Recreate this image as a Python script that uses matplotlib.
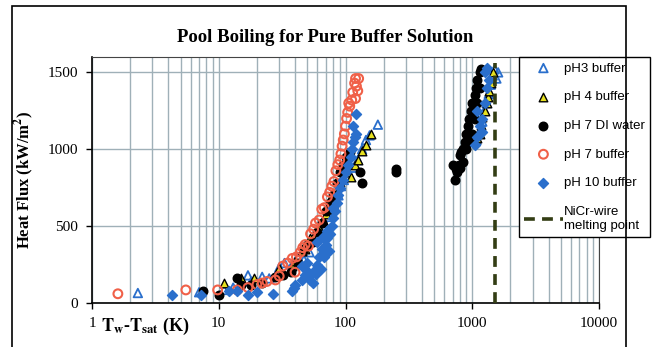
import matplotlib
matplotlib.use("Agg")
import matplotlib.pyplot as plt
from matplotlib.patches import Rectangle
from matplotlib.ticker import LogLocator, FixedLocator, FixedFormatter, NullFormatter

# 数据
ph3_x = [2.3, 7.0, 11, 13, 17, 18, 22, 25, 30, 33, 38, 42, 47, 52, 56, 60, 64, 68, 72,
         76, 80, 84, 88, 92, 97, 105, 115, 125, 135, 145, 155, 180,
         1080, 1150, 1200, 1250, 1300, 1350, 1400, 1450, 1500, 1600, 1550]
ph3_y = [65, 70, 85, 100, 180, 140, 170, 160, 230, 260, 250, 300, 280, 330, 400, 430, 470, 520, 560,
         600, 650, 680, 700, 760, 800, 850, 880, 930, 1000, 1060, 1090, 1160,
         1060, 1120, 1180, 1250, 1300, 1360, 1420, 1480, 1520, 1500, 1460]

ph4_x = [11, 15, 19, 30, 38, 40, 45, 48, 52, 55, 62, 66, 70, 74, 78, 85, 90, 96, 105, 110,
         118, 125, 135, 145, 160,
         1100, 1150, 1180, 1200, 1250, 1300, 1320, 1350, 1400, 1450]
ph4_y = [130, 165, 160, 230, 240, 270, 340, 350, 420, 430, 490, 540, 580, 610, 700, 720, 790, 820, 850, 820,
         900, 930, 990, 1030, 1100,
         1070, 1100, 1160, 1210, 1250, 1300, 1340, 1380, 1430, 1500]

di_x = [7.5, 10, 14, 15, 18, 22, 28, 32, 37, 42, 47, 50, 55, 60, 65, 70, 75, 80, 85, 90,
        95, 100, 108, 130, 135, 250, 250,
        700, 730, 750, 760, 780, 800, 800, 820, 850, 850, 870, 900, 900, 920, 950, 950,
        980, 1000, 1000, 1050, 1050, 1080, 1100, 1100, 1150, 1150, 1170]
di_y = [80, 55, 160, 120, 120, 130, 170, 180, 200, 260, 350, 380, 400, 460, 520, 600, 650, 700, 780, 850,
        900, 950, 980, 850, 780, 870, 850,
        900, 800, 870, 850, 900, 960, 880, 980, 1000, 920, 1050, 1100, 1000, 1150, 1200, 1050,
        1250, 1300, 1100, 1350, 1200, 1400, 1450, 1300, 1500, 1400, 1520]

ph7_x = [1.6, 5.5, 9.8, 14, 17, 20, 22, 24, 28, 30, 32, 35, 38, 40, 41, 44, 46, 48, 51, 53,
         56, 58, 62, 65, 68, 72, 75, 78, 81, 84, 87, 90, 92, 94, 96, 98, 100, 102, 104,
         106, 108, 112, 114, 118, 120, 122, 125, 127, 120]
ph7_y = [60, 85, 85, 85, 100, 120, 130, 140, 150, 175, 240, 260, 290, 200, 300, 330, 360, 380, 370, 450,
         480, 520, 540, 610, 620, 690, 720, 760, 790, 860, 900, 930, 970, 1020, 1060, 1100, 1150, 1200, 1240,
         1300, 1280, 1320, 1370, 1430, 1460, 1410, 1380, 1460, 1330]

ph10_x = [4.3, 7.3, 12, 14, 17, 20, 27, 38, 39, 40, 45, 48, 50, 52, 55, 55, 58, 60, 62, 64,
          65, 68, 70, 72, 74, 75, 78, 80, 82, 85, 88, 90, 95, 100, 105, 110, 112, 115, 118,
          120, 115, 120, 45, 50, 60, 66, 72, 80,
          1050, 1100, 1150, 1200, 1200, 1250, 1300, 1350, 1300, 1250, 1100]
ph10_y = [55, 50, 80, 80, 55, 70, 60, 80, 100, 120, 150, 180, 210, 150, 130, 200, 190, 250, 300, 220,
          350, 300, 380, 420, 340, 450, 500, 550, 600, 650, 700, 750, 800, 850, 900, 950, 1000, 1050, 1080,
          1100, 1150, 1230, 240, 260, 400, 430, 470, 620,
          1030, 1080, 1150, 1200, 1110, 1300, 1400, 1450, 1530, 1500, 1250]

melt_T = 1500
melt_top = 1560

x_ticks = [1, 10, 100, 1000, 10000]
x_labels = ["1", "10", "100", "1000", "10000"]
y_ticks = [0, 500, 1000, 1500]

serif = ["Liberation Serif", "DejaVu Serif"]
sans = ["Liberation Sans", "DejaVu Sans"]
plt.rcParams["mathtext.fontset"] = "stix"

fig = plt.figure(figsize=(6.52, 3.47), dpi=100)
ax = fig.add_axes([92 / 652, 1 - 303 / 347, 507 / 652, 246 / 347])

grid_c = "#9fb0b8"
ax.set_xscale("log")
ax.set_xlim(1, 10000)
ax.set_ylim(0, 1600)
ax.xaxis.set_major_locator(FixedLocator(x_ticks))
ax.xaxis.set_major_formatter(FixedFormatter(x_labels))
ax.xaxis.set_minor_locator(LogLocator(base=10, subs=range(2, 10)))
ax.xaxis.set_minor_formatter(NullFormatter())
ax.yaxis.set_major_locator(FixedLocator(y_ticks))
ax.grid(which="both", axis="x", color=grid_c, lw=1.0)
ax.grid(which="major", axis="y", color=grid_c, lw=1.0)
ax.set_axisbelow(True)
ax.tick_params(which="minor", length=0)
ax.tick_params(which="major", direction="out", length=4, width=1, pad=6)
for lab in ax.get_xticklabels() + ax.get_yticklabels():
    lab.set_family(serif)
    lab.set_fontsize(11)
for s in ["left", "bottom"]:
    ax.spines[s].set_color("black")
    ax.spines[s].set_linewidth(1.2)
for s in ["top", "right"]:
    ax.spines[s].set_color("#444444")

blue = "#2a6fcc"
ax.scatter(ph3_x, ph3_y, marker="^", s=38, facecolors="none", edgecolors=blue, linewidths=1.3,
           label="pH3 buffer", zorder=3)
ax.scatter(ph4_x, ph4_y, marker="^", s=38, facecolors="#e6e020", edgecolors="black", linewidths=1.0,
           label="pH 4 buffer", zorder=3)
ax.scatter(di_x, di_y, marker="o", s=38, color="black", label="pH 7 DI water", zorder=3)
ax.scatter(ph7_x, ph7_y, marker="o", s=40, facecolors="none", edgecolors="#f06048", linewidths=1.5,
           label="pH 7 buffer", zorder=3)
ax.scatter(ph10_x, ph10_y, marker="D", s=26, color=blue, label="pH 10 buffer", zorder=3)
ax.plot([melt_T, melt_T], [0, melt_top], ls=(0, (3, 2)), color="#333d14", lw=2.6,
        label="NiCr-wire\nmelting point", zorder=4)

leg = ax.legend(loc="upper left", bbox_to_anchor=(519 / 652, 1 - 57 / 347), bbox_transform=fig.transFigure,
                prop={"family": sans, "size": 9.5}, frameon=True, fancybox=False, edgecolor="black",
                framealpha=1, labelspacing=1.25, handlelength=2.9, handletextpad=0.1,
                borderpad=0.4, borderaxespad=0, scatterpoints=1)
leg.get_frame().set_linewidth(1.0)

fig.text(325 / 652, 1 - 37 / 347, "Pool Boiling for Pure Buffer Solution", family=serif,
         weight="bold", fontsize=13.5, ha="center", va="center")
ax.set_ylabel("Heat Flux (kW/m$^\\mathbf{2}$)", family=serif, weight="bold", fontsize=12, labelpad=8)
fig.text(101 / 652, 1 - 326 / 347, r"$\mathbf{T_{w}}$-$\mathbf{T_{sat}}$ (K)", family=serif,
         weight="bold", fontsize=13, ha="left", va="center")

fig.patches.append(Rectangle((12 / 652, -0.02), 614 / 652, 1.02 - 6 / 347, transform=fig.transFigure,
                             fill=False, edgecolor="black", lw=1.2))

fig.savefig("out.png", dpi=100)
